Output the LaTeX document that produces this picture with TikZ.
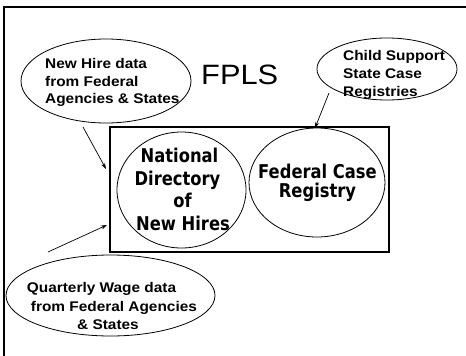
\documentclass[tikz,border=0pt]{standalone}
\usepackage{fontspec}
\setmainfont{Liberation Sans}[FakeStretch=1.1]
\newfontfamily\tahfont{DejaVu Sans}[FakeStretch=0.86]
\usetikzlibrary{shapes.geometric,arrows.meta}
\begin{document}
\begin{tikzpicture}[x=1pt,y=-1pt,
  oval/.style={draw,ellipse,line width=0.8pt,inner sep=0pt},
  artext/.style={font=\bfseries\fontsize{14}{17}\selectfont,inner sep=0pt},
  tahtext/.style={font=\tahfont\bfseries\fontsize{19}{22}\selectfont,inner sep=0pt,anchor=base},
  conn/.style={line width=0.7pt,-{Stealth[length=6pt,width=4pt]}}]
\useasboundingbox (0,0) rectangle (466,356);
% slide frame (partly cropped)
\draw[line width=1.5pt] (4,362) -- (4,7) -- (472,7);
% title
\node[font=\fontsize{28}{32}\selectfont,inner sep=0pt,anchor=base west] (title) at (201,84.3) {FPLS};
% FPLS box
\node[draw,line width=1.5pt,minimum width=279pt,minimum height=125pt,inner sep=0pt] (box) at (249.5,189.5) {};
% inner ellipses
\node[oval,minimum width=129pt,minimum height=116pt] (ndnh) at (181.5,190) {};
\node[oval,minimum width=136pt,minimum height=109pt] (fcr) at (317,182.5) {};
\node[tahtext] (n1) at (179.5,162) {National};
\node[tahtext] (n2) at (177.5,185) {Directory};
\node[tahtext] (n3) at (182.5,207.5) {of};
\node[tahtext] (n4) at (183,230) {New Hires};
\node[tahtext] (f1) at (317.5,178.3) {Federal Case};
\node[tahtext] (f2) at (317.5,197.7) {Registry};
% source ellipses
\node[oval,minimum width=170pt,minimum height=84pt] (nh) at (106,81) {};
\node[artext,anchor=base west] (nh1) at (45,68.5) {New Hire data};
\node[artext,anchor=base west] (nh2) at (45,86) {from Federal};
\node[artext,anchor=base west] (nh3) at (45,103.5) {Agencies \& States};
\node[oval,minimum width=140pt,minimum height=62pt] (cs) at (387,69) {};
\node[artext,anchor=base west] (cs1) at (343,60) {Child Support};
\node[artext,anchor=base west] (cs2) at (343,78) {State Case};
\node[artext,anchor=base west] (cs3) at (343,96) {Registries};
\node[oval,minimum width=209pt,minimum height=81pt] (qw) at (110.5,295.5) {};
\node[artext,anchor=base west] (qw1) at (26.7,292.5) {Quarterly Wage data};
\node[artext,anchor=base west] (qw2) at (30.7,311) {from Federal Agencies};
\node[artext,anchor=base west] (qw3) at (77,329) {\& States};
% connectors
\coordinate (a1s) at (83,127);
\coordinate (a1e) at (106,169);
\coordinate (a2s) at (48,252);
\coordinate (a2e) at (107,225);
\coordinate (a3s) at (329,93);
\coordinate (a3e) at (315,128);
\draw[conn] (a1s) -- (a1e);
\draw[conn] (a2s) -- (a2e);
\draw[conn] (a3s) -- (a3e);
\end{tikzpicture}
\end{document}
